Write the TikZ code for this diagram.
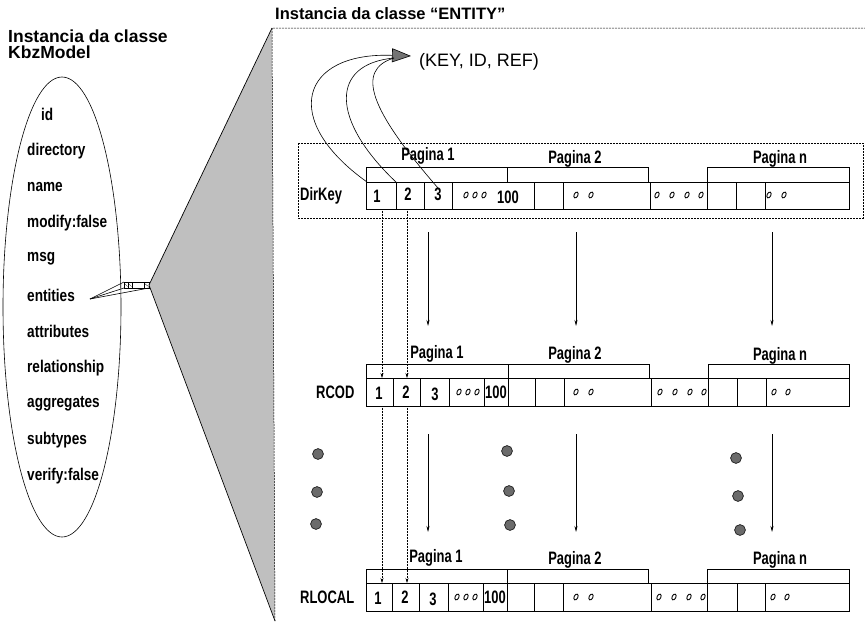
\documentclass[tikz,border=0pt]{standalone}
\usepackage{fontspec}
\setmainfont{Liberation Sans}
\newfontfamily\cond{Liberation Sans}[FakeStretch=0.72]
\newfontfamily\condi{Liberation Sans}[FakeStretch=0.8]
\usetikzlibrary{arrows.meta}
\begin{document}
\begin{tikzpicture}[x=1pt,y=-1pt,
  lbl/.style={font=\cond\bfseries\fontsize{18}{18}\selectfont, inner sep=0pt},
  pag/.style={lbl, anchor=base},
  item/.style={font=\condi\bfseries\fontsize{17}{17}\selectfont, inner sep=0pt, anchor=west},
  ttl/.style={font=\bfseries\fontsize{16.5}{15}\selectfont, inner sep=0pt, anchor=west, align=left},
  ttlk/.style={font=\bfseries\fontsize{17.5}{17}\selectfont, inner sep=0pt, anchor=base west},
  rowbox/.style={draw, line width=0.6pt, inner sep=0pt, outer sep=0pt, minimum width=483pt, anchor=north west},
  frame/.style={dash pattern=on 2pt off 1pt, line width=0.5pt},
  ov/.style={line width=0.9pt},
  dotarr/.style={densely dotted, line width=0.5pt, -{Stealth[length=5pt,width=3pt]}},
  downarr/.style={line width=0.6pt, -{Stealth[length=6pt,width=3pt]}},
  ball/.style={draw=black!85, fill=black!58, line width=0.5pt},
]
\useasboundingbox (0,0) rectangle (865,624);

% ---------- left: KbzModel instance ----------
\node[ttlk] (ttlK1) at (8,42) {Instancia da classe};
\node[ttlk] (ttlK2) at (8,58) {KbzModel};
\draw[line width=0.6pt] (62,307) ellipse [x radius=59, y radius=230];
\node[item] (i1) at (41,114) {id};
\node[item] (i2) at (27,151) {directory};
\node[item] (i3) at (27,187) {name};
\node[item] (i4) at (27,223) {modify:false};
\node[item] (i5) at (27,259) {msg};
\node[item] (i6) at (27,295) {entities};
\node[item] (i7) at (27,331) {attributes};
\node[item] (i8) at (27,368) {relationship};
\node[item] (i9) at (27,404) {aggregates};
\node[item] (i10) at (27,440) {subtypes};
\node[item] (i11) at (27,476) {verify:false};

% small pointer box
\node[draw, line width=0.6pt, inner sep=0pt, outer sep=0pt, minimum width=25pt, minimum height=6pt, anchor=west] (pbox) at (124,285) {};
\foreach \x in {128,132,144} \draw[line width=0.5pt] (\x,282) -- (\x,288);
\draw[line width=0.3pt] (124.5,283.5) -- (127.5,286.5) (128.5,283.5) -- (131.5,286.5) (144.5,283.5) -- (148.5,286.5);
\coordinate (ent) at (90,299);
\draw[line width=0.6pt] (ent) -- (pbox.north west);
\draw[line width=0.6pt] (ent) -- (pbox.south west);
\draw[line width=0.6pt] (ent) -- (pbox.south east);

% shaded zoom triangle
\coordinate (apex) at (pbox.east);
\coordinate (ftop) at (272,28);
\coordinate (fbot) at (275,621);
\fill[black!25] (apex) -- (ftop) -- (fbot) -- cycle;
\draw[line width=0.7pt] (ftop) -- (apex) -- (fbot);
\draw[frame] (fbot) -- (ftop) -- (865,28);

% ---------- right: ENTITY instance ----------
\node[ttl] (ttlE) at (275,14) {Instancia da classe “ENTITY”};
\node[font=\fontsize{18}{18}\selectfont, inner sep=0pt, anchor=west] (kir) at (419,62) {(KEY, ID, REF)};

% DirKey
\draw[frame] (298,143) rectangle (863,218);
\node[rowbox, minimum height=27pt] (dk) at (366,182) {};
\foreach \x in {396,424,452,534,563,650,707,736,765} \draw[line width=0.6pt] (\x,182) -- (\x,209);
\draw[line width=0.6pt] (366,182) -- (366,167) -- (648,167) -- (648,182) (507,167) -- (507,182);
\draw[line width=0.6pt] (707,182) -- (707,167) -- (849,167) -- (849,182);
\node[lbl, anchor=west] (dkl) at (300,196) {DirKey};
\node[pag] (dp1) at (428,160) {Pagina 1};
\node[pag] (dp2) at (575,163) {Pagina 2};
\node[pag] (dpn) at (780,163) {Pagina n};
\node[lbl] (dc1) at (377,196) {1};
\node[lbl] (dc2) at (408,194) {2};
\node[lbl] (dc3) at (438,194) {3};
\node[lbl] (dc100) at (508,197) {100};
\foreach \x in {466,475,484,576,591,657,672,687,701,769,784}
  \draw[ov, shift={(\x,195)}, rotate=-25] (0,0) ellipse [x radius=1.9, y radius=3.1];

% curved pointers
\coordinate (cs1) at (367,182);
\coordinate (cs2) at (397,183);
\coordinate (cs3) at (438,188);
\coordinate (tip) at (411,56);
\coordinate (cend) at (394,58);
\draw[line width=0.6pt, -{Triangle[length=19pt,width=14pt,fill=black!55]}] (cs1) .. controls (280,120) and (300,52) .. (tip);
\draw[line width=0.6pt] (cs2) .. controls (330,120) and (330,64) .. (cend);
\draw[line width=0.6pt] (cs3) .. controls (370,110) and (355,70) .. (cend);

% RCOD
\node[rowbox, minimum height=28pt] (rc) at (366,378) {};
\foreach \x in {393,420,449,484,508,535,564,651,708,737,766} \draw[line width=0.6pt] (\x,378) -- (\x,406);
\draw[line width=0.6pt] (366,378) -- (366,364) -- (649,364) -- (649,378) (508,364) -- (508,378);
\draw[line width=0.6pt] (708,378) -- (708,364) -- (849,364) -- (849,378);
\node[lbl, anchor=west] (rcl) at (316,392) {RCOD};
\node[pag] (rp1) at (437,358) {Pagina 1};
\node[pag] (rp2) at (575,359) {Pagina 2};
\node[pag] (rpn) at (780,360) {Pagina n};
\node[lbl] (rc1) at (379,393) {1};
\node[lbl] (rc2) at (406,392) {2};
\node[lbl] (rc3) at (435,394) {3};
\node[lbl] (rc100) at (496,392) {100};
\foreach \x in {459,468,477,576,591,660,675,690,704,774,788}
  \draw[ov, shift={(\x,392)}, rotate=-25] (0,0) ellipse [x radius=1.9, y radius=3.1];

% RLOCAL
\node[rowbox, minimum height=28pt] (rl) at (366,583) {};
\foreach \x in {392,419,448,483,507,534,563,651,707,737,765} \draw[line width=0.6pt] (\x,583) -- (\x,611);
\draw[line width=0.6pt] (366,583) -- (366,569) -- (648,569) -- (648,583) (507,569) -- (507,583);
\draw[line width=0.6pt] (707,583) -- (707,569) -- (849,569) -- (849,583);
\node[lbl, anchor=west] (rll) at (300,597) {RLOCAL};
\node[pag] (lp1) at (436,562) {Pagina 1};
\node[pag] (lp2) at (575,564) {Pagina 2};
\node[pag] (lpn) at (780,564) {Pagina n};
\node[lbl] (lc1) at (378,598) {1};
\node[lbl] (lc2) at (405,597) {2};
\node[lbl] (lc3) at (433,599) {3};
\node[lbl] (lc100) at (495,597) {100};
\foreach \x in {457,466,475,576,591,659,674,689,703,773,787}
  \draw[ov, shift={(\x,597)}, rotate=-25] (0,0) ellipse [x radius=1.9, y radius=3.1];

% dotted links
\coordinate (xa) at (382,0);
\coordinate (xb) at (407,0);
\draw[dotarr] (xa |- dk.south) -- (xa |- rc.north);
\draw[dotarr] (xb |- dk.south) -- (xb |- rc.north);
\draw[dotarr] (xa |- rc.south) -- (xa |- rl.north);
\draw[dotarr] (xb |- rc.south) -- (xb |- rl.north);

% down arrows
\foreach \x/\n in {428/a,576/b,772/c} {
  \coordinate (u\n) at (\x,232); \coordinate (v\n) at (\x,326);
  \coordinate (w\n) at (\x,434); \coordinate (z\n) at (\x,532);
  \draw[downarr] (u\n) -- (v\n);
  \draw[downarr] (w\n) -- (z\n);
}

% continuation dots
\foreach \p in {(318,454),(317,492),(316,524),(507,451),(509,491),(510,525),(736,458),(738,496),(740,530)}
  \fill[ball] \p circle (5.4);
\foreach \p in {(318,454),(317,492),(316,524),(507,451),(509,491),(510,525),(736,458),(738,496),(740,530)}
  \draw[draw=black!85, line width=0.5pt] \p circle (5.4);
\end{tikzpicture}
\end{document}
